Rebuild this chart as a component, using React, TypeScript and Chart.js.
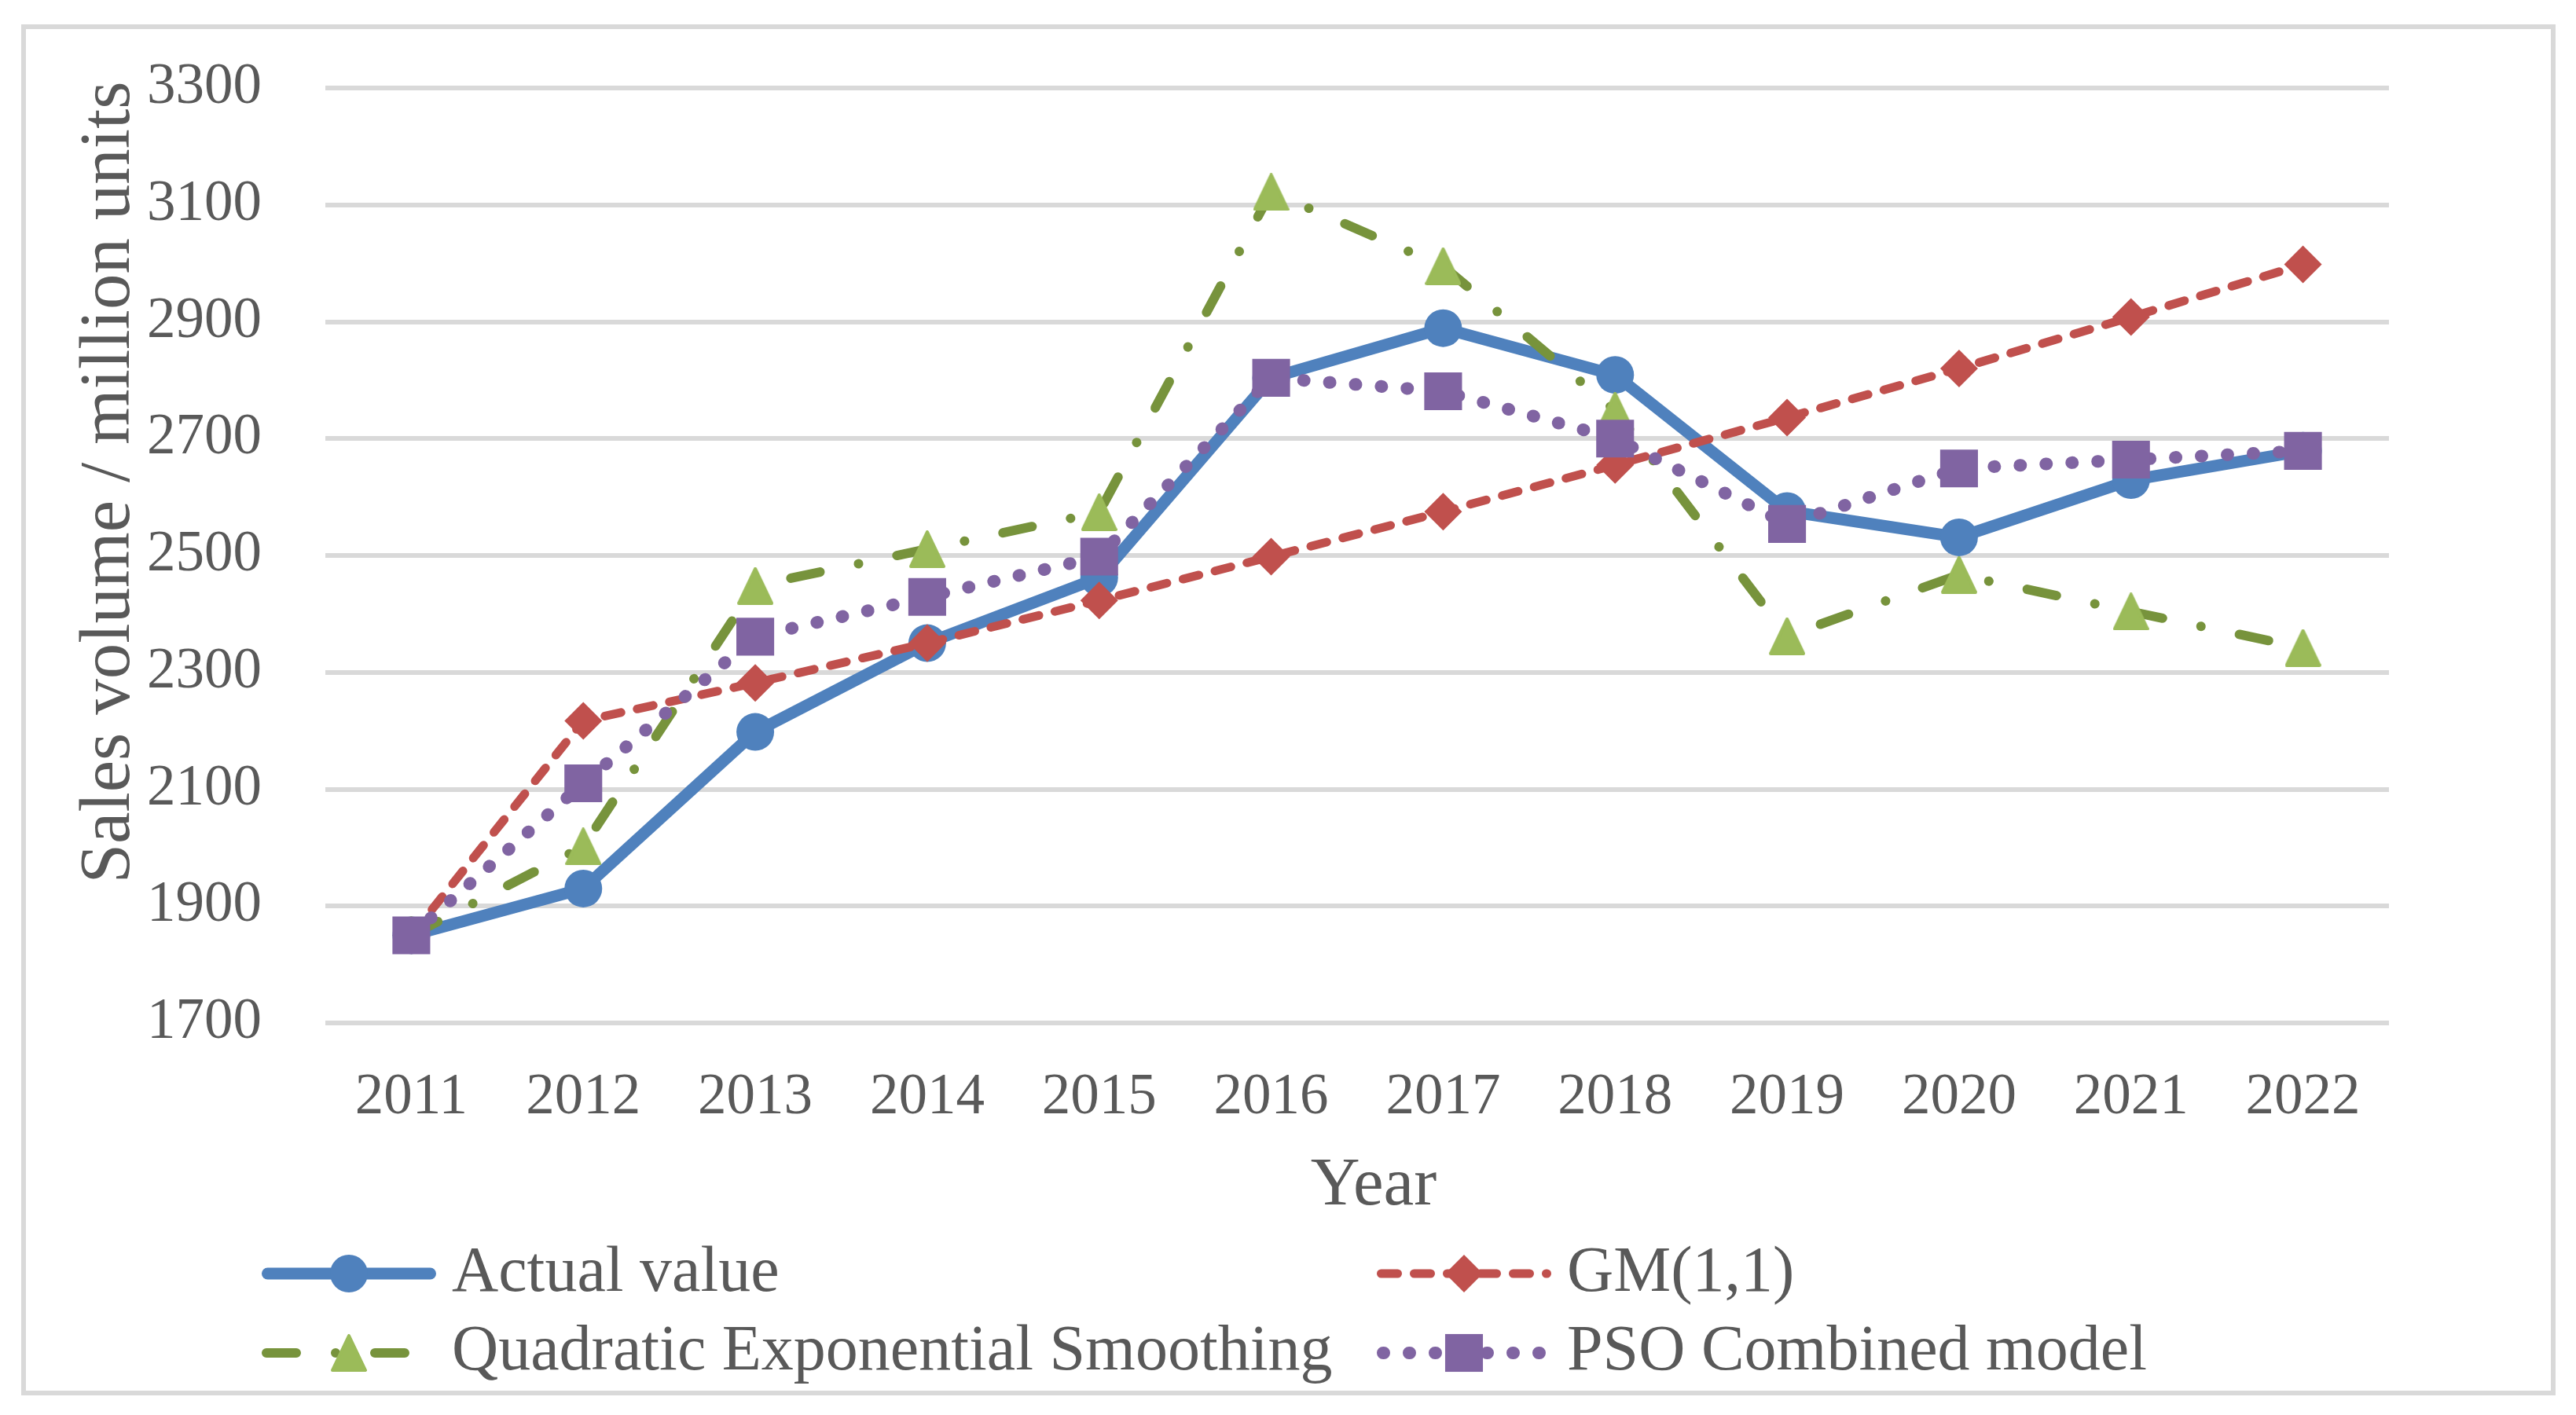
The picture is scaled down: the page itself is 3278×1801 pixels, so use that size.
import React, { useEffect, useRef } from 'react';
import { Chart, registerables } from 'chart.js';

Chart.register(...registerables);

const years = ['2011', '2012', '2013', '2014', '2015', '2016', '2017', '2018', '2019', '2020', '2021', '2022'];
const actualValue = [1850, 1930, 2198, 2350, 2462, 2804, 2889, 2809, 2576, 2531, 2629, 2679];
const gm11 = [1850, 2217, 2282, 2350, 2423, 2498, 2575, 2655, 2736, 2820, 2908, 2998];
const quadraticES = [1850, 2002, 2448, 2511, 2574, 3122, 2995, 2748, 2362, 2467, 2404, 2342];
const psoCombined = [1850, 2110, 2361, 2429, 2498, 2804, 2781, 2700, 2554, 2649, 2664, 2679];
const yTicks = [1700, 1900, 2100, 2300, 2500, 2700, 2900, 3100, 3300];
const seriesNames = ['Actual value', 'GM(1,1)', 'Quadratic Exponential Smoothing', 'PSO Combined model'];
const yTitle = 'Sales volume / million units';
const xTitle = 'Year';

const FONT = "'Liberation Serif', 'Times New Roman', serif";
const TEXT = '#595959';
const GRID = '#d9d9d9';

function makeTriangle(color: string) {
  const c = document.createElement('canvas');
  c.width = 46;
  c.height = 48;
  const ctx = c.getContext('2d')!;
  ctx.fillStyle = color;
  ctx.strokeStyle = color;
  ctx.lineWidth = 4;
  ctx.lineJoin = 'round';
  ctx.beginPath();
  ctx.moveTo(23, 2);
  ctx.lineTo(44, 46);
  ctx.lineTo(2, 46);
  ctx.closePath();
  ctx.fill();
  ctx.stroke();
  return c;
}

function drawMarker(ctx: CanvasRenderingContext2D, ds: any, x: number, y: number) {
  const style = ds.pointStyle;
  const r = ds.pointRadius;
  ctx.save();
  ctx.fillStyle = ds.pointBackgroundColor;
  if (style instanceof HTMLCanvasElement) {
    ctx.drawImage(style, x - style.width / 2, y - style.height / 2);
  } else if (style === 'circle') {
    ctx.beginPath();
    ctx.arc(x, y, r, 0, Math.PI * 2);
    ctx.fill();
  } else if (style === 'rectRot') {
    ctx.beginPath();
    ctx.moveTo(x - r, y);
    ctx.lineTo(x, y - r);
    ctx.lineTo(x + r, y);
    ctx.lineTo(x, y + r);
    ctx.closePath();
    ctx.fill();
  } else if (style === 'rect') {
    const s = Math.SQRT1_2 * r;
    ctx.fillRect(x - s, y - s, 2 * s, 2 * s);
  }
  ctx.restore();
}

const framePlugin = {
  id: 'frame',
  beforeDraw(chart: any) {
    const ctx = chart.ctx;
    ctx.save();
    ctx.fillStyle = '#ffffff';
    ctx.fillRect(0, 0, chart.width, chart.height);
    ctx.strokeStyle = GRID;
    ctx.lineWidth = 6;
    ctx.strokeRect(30, 34, 3219, 1739);
    ctx.restore();
  },
};

const titlesPlugin = {
  id: 'titles',
  afterDraw(chart: any) {
    const ctx = chart.ctx;
    ctx.save();
    ctx.fillStyle = TEXT;
    ctx.font = `91px ${FONT}`;
    ctx.textAlign = 'center';
    ctx.textBaseline = 'alphabetic';
    ctx.translate(164, 614);
    ctx.rotate(-Math.PI / 2);
    ctx.fillText(yTitle, 0, 0);
    ctx.restore();

    ctx.save();
    ctx.fillStyle = TEXT;
    ctx.font = `87px ${FONT}`;
    ctx.textAlign = 'center';
    ctx.textBaseline = 'alphabetic';
    ctx.fillText(xTitle, 1748, 1533);
    ctx.restore();
  },
};

const legendPlugin = {
  id: 'customLegend',
  afterDraw(chart: any) {
    const ctx = chart.ctx;
    const colStarts = [333, 1752];
    const rowCenters = [1621, 1722];
    const rowBaselines = [1643, 1743];
    const lineLen = 222;
    chart.data.datasets.forEach((ds: any, i: number) => {
      const col = i % 2;
      const row = Math.floor(i / 2);
      const x0 = colStarts[col];
      const y = rowCenters[row];
      ctx.save();
      ctx.strokeStyle = ds.borderColor;
      ctx.lineWidth = ds.borderWidth;
      ctx.lineCap = 'round';
      ctx.setLineDash(ds.borderDash || []);
      ctx.beginPath();
      ctx.moveTo(x0 + ds.borderWidth / 2, y);
      ctx.lineTo(x0 + lineLen - ds.borderWidth / 2, y);
      ctx.stroke();
      ctx.restore();
      drawMarker(ctx, ds, x0 + lineLen / 2, y);
      ctx.save();
      ctx.fillStyle = TEXT;
      ctx.font = `82px ${FONT}`;
      ctx.textAlign = 'left';
      ctx.textBaseline = 'alphabetic';
      ctx.fillText(ds.label, x0 + 242, rowBaselines[row]);
      ctx.restore();
    });
  },
};

export default function App() {
  const canvasRef = useRef<HTMLCanvasElement | null>(null);

  useEffect(() => {
    document.body.style.margin = '0';
    const canvas = canvasRef.current;
    if (!canvas) return;
    const triangle = makeTriangle('#9bbb59');
    const chart = new Chart(canvas, {
      type: 'line',
      data: {
        labels: years,
        datasets: [
          {
            label: seriesNames[0],
            data: actualValue,
            borderColor: '#4f81bd',
            backgroundColor: '#4f81bd',
            borderWidth: 15,
            borderCapStyle: 'round',
            borderJoinStyle: 'round',
            pointStyle: 'circle',
            pointRadius: 24,
            pointHoverRadius: 24,
            pointBackgroundColor: '#4f81bd',
            pointBorderWidth: 0,
            tension: 0,
            order: 4,
          },
          {
            label: seriesNames[1],
            data: gm11,
            borderColor: '#c0504d',
            backgroundColor: '#c0504d',
            borderWidth: 11,
            borderDash: [21, 21],
            borderCapStyle: 'round',
            borderJoinStyle: 'round',
            pointStyle: 'rectRot',
            pointRadius: 24,
            pointHoverRadius: 24,
            pointBackgroundColor: '#c0504d',
            pointBorderWidth: 0,
            tension: 0,
            order: 3,
          },
          {
            label: seriesNames[2],
            data: quadraticES,
            borderColor: '#77933c',
            backgroundColor: '#9bbb59',
            borderWidth: 12,
            borderDash: [38, 50, 0.1, 49.9],
            borderCapStyle: 'round',
            borderJoinStyle: 'round',
            pointStyle: triangle,
            pointRadius: 24,
            pointHoverRadius: 24,
            pointBackgroundColor: '#9bbb59',
            pointBorderWidth: 0,
            tension: 0,
            order: 2,
          },
          {
            label: seriesNames[3],
            data: psoCombined,
            borderColor: '#8064a2',
            backgroundColor: '#8064a2',
            borderWidth: 16,
            borderDash: [1, 32],
            borderCapStyle: 'round',
            borderJoinStyle: 'round',
            pointStyle: 'rect',
            pointRadius: 34,
            pointHoverRadius: 34,
            pointBackgroundColor: '#8064a2',
            pointBorderWidth: 0,
            tension: 0,
            order: 1,
          },
        ] as any,
      },
      options: {
        animation: false,
        responsive: true,
        maintainAspectRatio: false,
        devicePixelRatio: 1,
        events: [],
        layout: { padding: { left: 0, top: 112, right: 238, bottom: 349 } },
        plugins: {
          legend: { display: false },
          tooltip: { enabled: false },
          title: { display: false },
        },
        scales: {
          x: {
            type: 'category',
            offset: true,
            grid: { display: false },
            border: { display: false },
            ticks: {
              color: TEXT,
              font: { family: FONT, size: 73 },
              padding: 44,
              maxRotation: 0,
              autoSkip: false,
            },
            afterFit: (s: any) => {
              s.height = 150;
            },
          },
          y: {
            min: 1700,
            max: 3300,
            grid: { color: GRID, lineWidth: 6, drawTicks: false },
            border: { display: false },
            ticks: {
              color: TEXT,
              font: { family: FONT, size: 73 },
              padding: 81,
              callback: (v: any) => String(v),
            },
            afterBuildTicks: (s: any) => {
              s.ticks = yTicks.map((v) => ({ value: v }));
            },
            afterFit: (s: any) => {
              s.width = 414;
              s.paddingTop = 0;
              s.paddingBottom = 0;
            },
          },
        },
      } as any,
      plugins: [framePlugin, titlesPlugin, legendPlugin],
    });
    return () => chart.destroy();
  }, []);

  return (
    <div style={{ width: '3278px', height: '1801px', position: 'relative' }}>
      <canvas ref={canvasRef} />
    </div>
  );
}
